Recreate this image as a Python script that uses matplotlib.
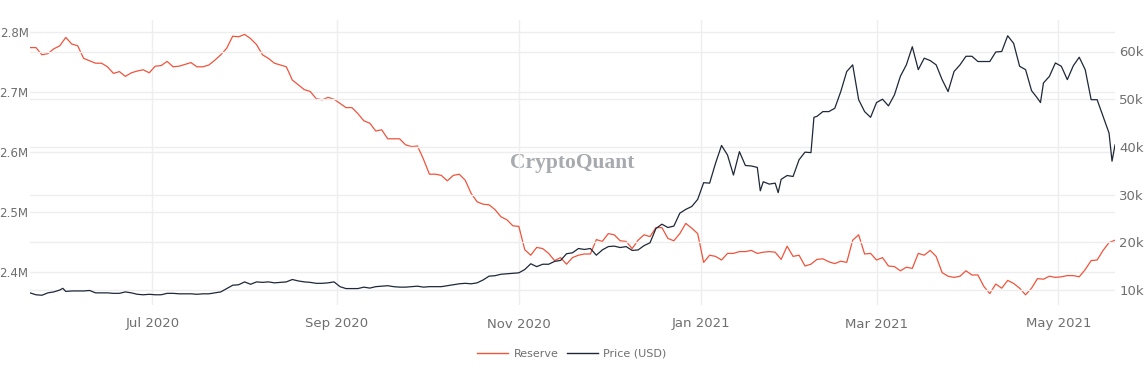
import matplotlib
matplotlib.use("Agg")
import matplotlib.pyplot as plt
import matplotlib.dates as mdates
from matplotlib.lines import Line2D
from matplotlib.ticker import FuncFormatter, FixedLocator
import pandas as pd

# exchange reserve (millions), one reading every second day from 2020-05-21
reserve = [
    2.774, 2.774, 2.762, 2.764, 2.772, 2.777, 2.791, 2.780, 2.777, 2.756,
    2.752, 2.748, 2.748, 2.742, 2.731, 2.734, 2.726, 2.732, 2.735, 2.737,
    2.732, 2.743, 2.744, 2.751, 2.742, 2.743, 2.746, 2.749, 2.742, 2.742,
    2.745, 2.753, 2.762, 2.773, 2.793, 2.792, 2.796, 2.789, 2.779, 2.762,
    2.756, 2.748, 2.745, 2.742, 2.720, 2.712, 2.704, 2.701, 2.689, 2.687,
    2.691, 2.688, 2.681, 2.674, 2.674, 2.664, 2.652, 2.648, 2.635, 2.637,
    2.622, 2.622, 2.622, 2.612, 2.609, 2.610, 2.588, 2.563, 2.563, 2.561,
    2.552, 2.561, 2.563, 2.553, 2.531, 2.517, 2.513, 2.512, 2.504, 2.492,
    2.487, 2.477, 2.476, 2.437, 2.428, 2.441, 2.439, 2.431, 2.419, 2.424,
    2.413, 2.424, 2.428, 2.430, 2.430, 2.454, 2.451, 2.464, 2.462, 2.452,
    2.451, 2.439, 2.453, 2.462, 2.459, 2.474, 2.474, 2.456, 2.452, 2.464,
    2.481, 2.473, 2.464, 2.416, 2.428, 2.426, 2.420, 2.431, 2.431, 2.434,
    2.434, 2.436, 2.431, 2.433, 2.434, 2.433, 2.421, 2.443, 2.426, 2.428,
    2.410, 2.413, 2.421, 2.422, 2.417, 2.414, 2.418, 2.416, 2.453, 2.462,
    2.430, 2.431, 2.420, 2.424, 2.410, 2.409, 2.402, 2.408, 2.406, 2.431,
    2.428, 2.436, 2.426, 2.399, 2.393, 2.391, 2.393, 2.402, 2.395, 2.395,
    2.376, 2.364, 2.380, 2.373, 2.386, 2.381, 2.373, 2.362, 2.373, 2.389,
    2.388, 2.393, 2.391, 2.392, 2.394, 2.394, 2.392, 2.404, 2.419, 2.420,
    2.436, 2.449, 2.453,
]

# BTC price (thousand USD), same dates
price = [
    9.4, 9.0, 8.9, 9.4, 9.6, 10.0, 9.7, 9.8, 9.8, 9.8,
    9.9, 9.4, 9.4, 9.4, 9.3, 9.3, 9.6, 9.4, 9.1, 9.0,
    9.1, 9.0, 9.0, 9.3, 9.3, 9.2, 9.2, 9.2, 9.1, 9.2,
    9.2, 9.4, 9.6, 10.3, 11.0, 11.1, 11.7, 11.2, 11.7, 11.6,
    11.7, 11.5, 11.6, 11.7, 12.2, 11.9, 11.7, 11.6, 11.4, 11.4,
    11.5, 11.7, 10.7, 10.3, 10.3, 10.3, 10.6, 10.4, 10.7, 10.8,
    10.9, 10.7, 10.6, 10.6, 10.7, 10.8, 10.6, 10.7, 10.7, 10.7,
    10.9, 11.1, 11.3, 11.4, 11.3, 11.5, 12.1, 12.9, 13.0, 13.3,
    13.4, 13.5, 13.6, 14.3, 15.5, 14.9, 15.4, 15.4, 16.0, 16.2,
    17.6, 17.8, 18.7, 18.5, 18.7, 17.3, 18.4, 19.1, 19.2, 18.9,
    19.1, 18.3, 18.4, 19.3, 19.9, 22.9, 23.8, 23.1, 23.4, 26.1,
    26.9, 27.5, 29.0, 32.5, 32.4, 36.6, 40.3, 38.3, 34.1, 39.0,
    36.1, 36.0, 35.7, 32.7, 32.2, 32.4, 33.2, 34.0, 33.8, 37.3,
    38.9, 38.8, 46.4, 47.4, 47.4, 48.1, 51.6, 55.8, 57.2, 49.9,
    47.4, 46.2, 49.3, 50.0, 48.6, 50.9, 54.8, 57.2, 61.0, 56.2,
    58.6, 58.1, 57.2, 54.1, 51.6, 55.8, 57.2, 59.0, 59.0, 57.9,
    57.9, 57.9, 59.9, 60.0, 63.3, 61.7, 56.9, 56.2, 51.8, 50.2,
    53.4, 54.8, 57.6, 56.9, 54.1, 57.0, 58.8, 56.2, 49.9, 49.9,
    46.4, 42.9, 40.4,
]

# sharp daily spikes that fall between the two-day readings
price_spikes = {
    "2020-06-01": 10.35,
    "2021-01-21": 30.8,
    "2021-01-27": 30.4,
    "2021-02-08": 46.2,
    "2021-04-25": 49.3,
    "2021-05-19": 37.0,
}

dates = pd.date_range("2020-05-21", periods=len(reserve), freq="2D")
reserve_s = pd.Series(reserve, index=dates) * 1e6
price_s = pd.Series(price, index=dates)
spikes = pd.Series(price_spikes)
spikes.index = pd.to_datetime(spikes.index)
price_s = pd.concat([price_s, spikes]).sort_index() * 1e3

RED = "#f0543c"
DARK = "#1e2838"
TICK = "#6f6f6f"
GRID = "#eeeeee"

W, H = 1144, 369
fig = plt.figure(figsize=(W / 100, H / 100), dpi=100)
left, right, top, bottom = 30, 1115, 20, 305
ax = fig.add_axes([left / W, 1 - bottom / H, (right - left) / W, (bottom - top) / H])
ax2 = ax.twinx()

for a in (ax, ax2):
    for sp in a.spines.values():
        sp.set_visible(False)
    a.tick_params(length=0, colors=TICK, labelsize=9.5)

ax.plot(reserve_s.index, reserve_s.values, color=RED, lw=0.9)
ax2.plot(price_s.index, price_s.values, color=DARK, lw=0.9)

ax.set_xlim(pd.Timestamp("2020-05-21"), pd.Timestamp("2021-05-20"))
# pixel mapping: 2.8M at y=32 px, 0.1M per 60 px
ax.set_ylim((2.8 - (bottom - 32) / 600) * 1e6, (2.8 + (32 - top) / 600) * 1e6)
# 60k at y=51 px, 10k at y=290 px
ax2.set_ylim((10 - (bottom - 290) / 4.77) * 1e3, (10 + (290 - top) / 4.77) * 1e3)

ax.yaxis.set_major_locator(FixedLocator([2.4e6, 2.5e6, 2.6e6, 2.7e6, 2.8e6]))
ax.yaxis.set_major_formatter(FuncFormatter(lambda v, p: f"{v / 1e6:.1f}M"))
ax2.yaxis.set_major_locator(FixedLocator([10e3, 20e3, 30e3, 40e3, 50e3, 60e3]))
ax2.yaxis.set_major_formatter(FuncFormatter(lambda v, p: f"{v / 1e3:.0f}k"))
# left labels sit right against the figure edge, keep them a touch smaller
ax.tick_params(axis="y", pad=1, labelsize=8.6)
ax2.tick_params(axis="y", pad=3)

ax.xaxis.set_major_locator(mdates.MonthLocator(bymonth=[1, 3, 5, 7, 9, 11]))
ax.xaxis.set_major_formatter(mdates.DateFormatter("%b %Y"))
ax.tick_params(axis="x", pad=9)

ax.grid(True, color=GRID, lw=1.0)
ax2.grid(True, axis="y", color=GRID, lw=1.0)
ax.set_axisbelow(True)
ax2.set_axisbelow(True)

# watermark
ax.text(0.5, 0.497, "CryptoQuant", transform=ax.transAxes, ha="center", va="center",
        fontsize=15.5, fontweight="bold", family="Liberation Serif", color="#a7aaae",
        zorder=0)

handles = [Line2D([0], [0], color=RED, lw=1.0, label="Reserve"),
           Line2D([0], [0], color=DARK, lw=1.0, label="Price (USD)")]
leg = fig.legend(handles=handles, loc="center", bbox_to_anchor=(572 / W, 1 - 354 / H),
                 ncol=2, frameon=False, fontsize=8, handlelength=2.8,
                 handletextpad=0.5, columnspacing=0.7)
for t in leg.get_texts():
    t.set_color(TICK)

fig.savefig("out.png", dpi=100, facecolor="white")
